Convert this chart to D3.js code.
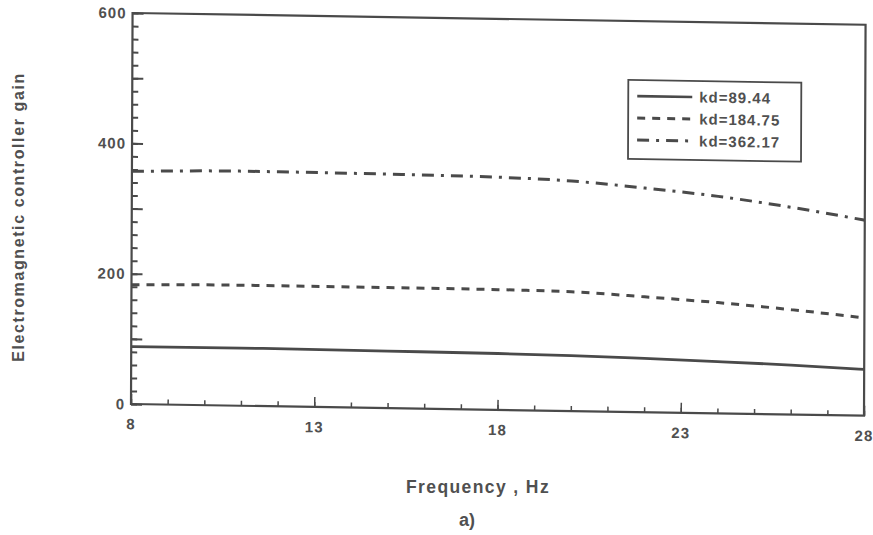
<!DOCTYPE html>
<html>
<head>
<meta charset="utf-8">
<script src="https://cdn.jsdelivr.net/npm/d3@7"></script>
<style>
  html, body { margin: 0; padding: 0; background: #fff; }
  svg { display: block; }
  text { font-family: "Liberation Sans", Arial, sans-serif; font-weight: bold; fill: #505050; }
</style>
</head>
<body>
<svg id="chart" width="873" height="535"></svg>
<script>
// ---- data ----
const freq      = [8, 11, 15, 18, 20, 22, 24, 26, 28];
const kd1Values = [88, 88.5, 87.5, 86.5, 85, 82.5, 79.5, 76, 71];
const kd2Values = [183, 185, 185, 184.5, 183, 177, 170, 161, 150];
const kd3Values = [357, 360, 359, 357, 353, 344, 333, 318, 300];
const seriesNames = ["kd=89.44", "kd=184.75", "kd=362.17"];
const xTicks = [8, 13, 18, 23, 28];
const yTicks = [0, 200, 400, 600];
const xTitle = "Frequency , Hz";
const yTitle = "Electromagnetic controller gain";
const caption = "a)";

// ---- layout ----
const svg = d3.select("#chart");
const L = 131, R = 864, T = 13, B = 404;
const ink = "#4a4a4a";

const x = d3.scaleLinear().domain([8, 28]).range([L, R]);
const y = d3.scaleLinear().domain([0, 600]).range([B, T]);

// slight skew to mimic the scanned page
const b = 0.016, c = -0.004;
const g = svg.append("g")
  .attr("transform", `matrix(1,${b},${c},1,${-c * B},${-b * L})`);

// minor / major ticks (inward)
const yAxisMinor = d3.axisRight(y).tickValues(d3.range(0, 601, 20)).tickSize(6).tickFormat("");
const yAxisMajor = d3.axisRight(y).tickValues(d3.range(0, 601, 100)).tickSize(11).tickFormat("");
const xAxisMinor = d3.axisTop(x).tickValues(d3.range(8, 29, 1)).tickSize(5).tickFormat("");
const xAxisMajor = d3.axisTop(x).tickValues(xTicks).tickSize(10).tickFormat("");

[yAxisMinor, yAxisMajor].forEach(ax => {
  const a = g.append("g").attr("transform", `translate(${L},0)`).call(ax);
  a.select(".domain").remove();
  a.selectAll("line").attr("stroke", ink).attr("stroke-width", 2);
});
[xAxisMinor, xAxisMajor].forEach(ax => {
  const a = g.append("g").attr("transform", `translate(0,${B})`).call(ax);
  a.select(".domain").remove();
  a.selectAll("line").attr("stroke", ink).attr("stroke-width", 1.5);
});

// tick labels
g.append("g").selectAll("text").data(yTicks).join("text")
  .attr("x", L - 6).attr("y", d => y(d))
  .attr("dy", "0.36em")
  .attr("text-anchor", "end")
  .style("font-size", "15px")
  .style("letter-spacing", "1px")
  .text(d => d);

g.append("g").selectAll("text").data(xTicks).join("text")
  .attr("x", d => x(d)).attr("y", B + 20)
  .attr("dy", "0.36em")
  .attr("text-anchor", "middle")
  .style("font-size", "15px")
  .style("letter-spacing", "1px")
  .text(d => d);

// frame
g.append("rect")
  .attr("x", L).attr("y", T).attr("width", R - L).attr("height", B - T)
  .attr("fill", "none").attr("stroke", ink).attr("stroke-width", 2.2);

// lines
const styles = [
  { dash: null },
  { dash: "8,7" },
  { dash: "12,7,3,7" }
];
const seriesData = [kd1Values, kd2Values, kd3Values];
const line = d3.line().x(d => x(d[0])).y(d => y(d[1])).curve(d3.curveMonotoneX);

seriesData.forEach((vals, i) => {
  const pts = freq.map((f, j) => [f, vals[j]]);
  g.append("path")
    .datum(pts)
    .attr("d", line)
    .attr("fill", "none")
    .attr("stroke", ink)
    .attr("stroke-width", i === 0 ? 2.8 : 3)
    .attr("stroke-dasharray", styles[i].dash);
});

// legend
const lg = g.append("g");
lg.append("rect")
  .attr("x", 627).attr("y", 72).attr("width", 173).attr("height", 79)
  .attr("fill", "#fff").attr("stroke", ink).attr("stroke-width", 1.8);
seriesNames.forEach((name, i) => {
  const ly = 88 + i * 22;
  lg.append("line")
    .attr("x1", 636).attr("x2", 691).attr("y1", ly).attr("y2", ly)
    .attr("stroke", ink).attr("stroke-width", i === 0 ? 2.6 : 3)
    .attr("stroke-dasharray", styles[i].dash);
  lg.append("text")
    .attr("x", 698).attr("y", ly).attr("dy", "0.36em")
    .style("font-size", "15px")
    .style("letter-spacing", "1px")
    .text(name);
});

// titles
svg.append("text")
  .attr("x", 478).attr("y", 493)
  .attr("text-anchor", "middle")
  .style("font-size", "17.5px")
  .style("letter-spacing", "1.4px")
  .text(xTitle);

svg.append("text")
  .attr("x", 467).attr("y", 526)
  .attr("text-anchor", "middle")
  .style("font-size", "18px")
  .text(caption);

svg.append("text")
  .attr("transform", `translate(24,217) rotate(-90)`)
  .attr("text-anchor", "middle")
  .style("font-size", "16px")
  .style("letter-spacing", "1.6px")
  .text(yTitle);
</script>
</body>
</html>
